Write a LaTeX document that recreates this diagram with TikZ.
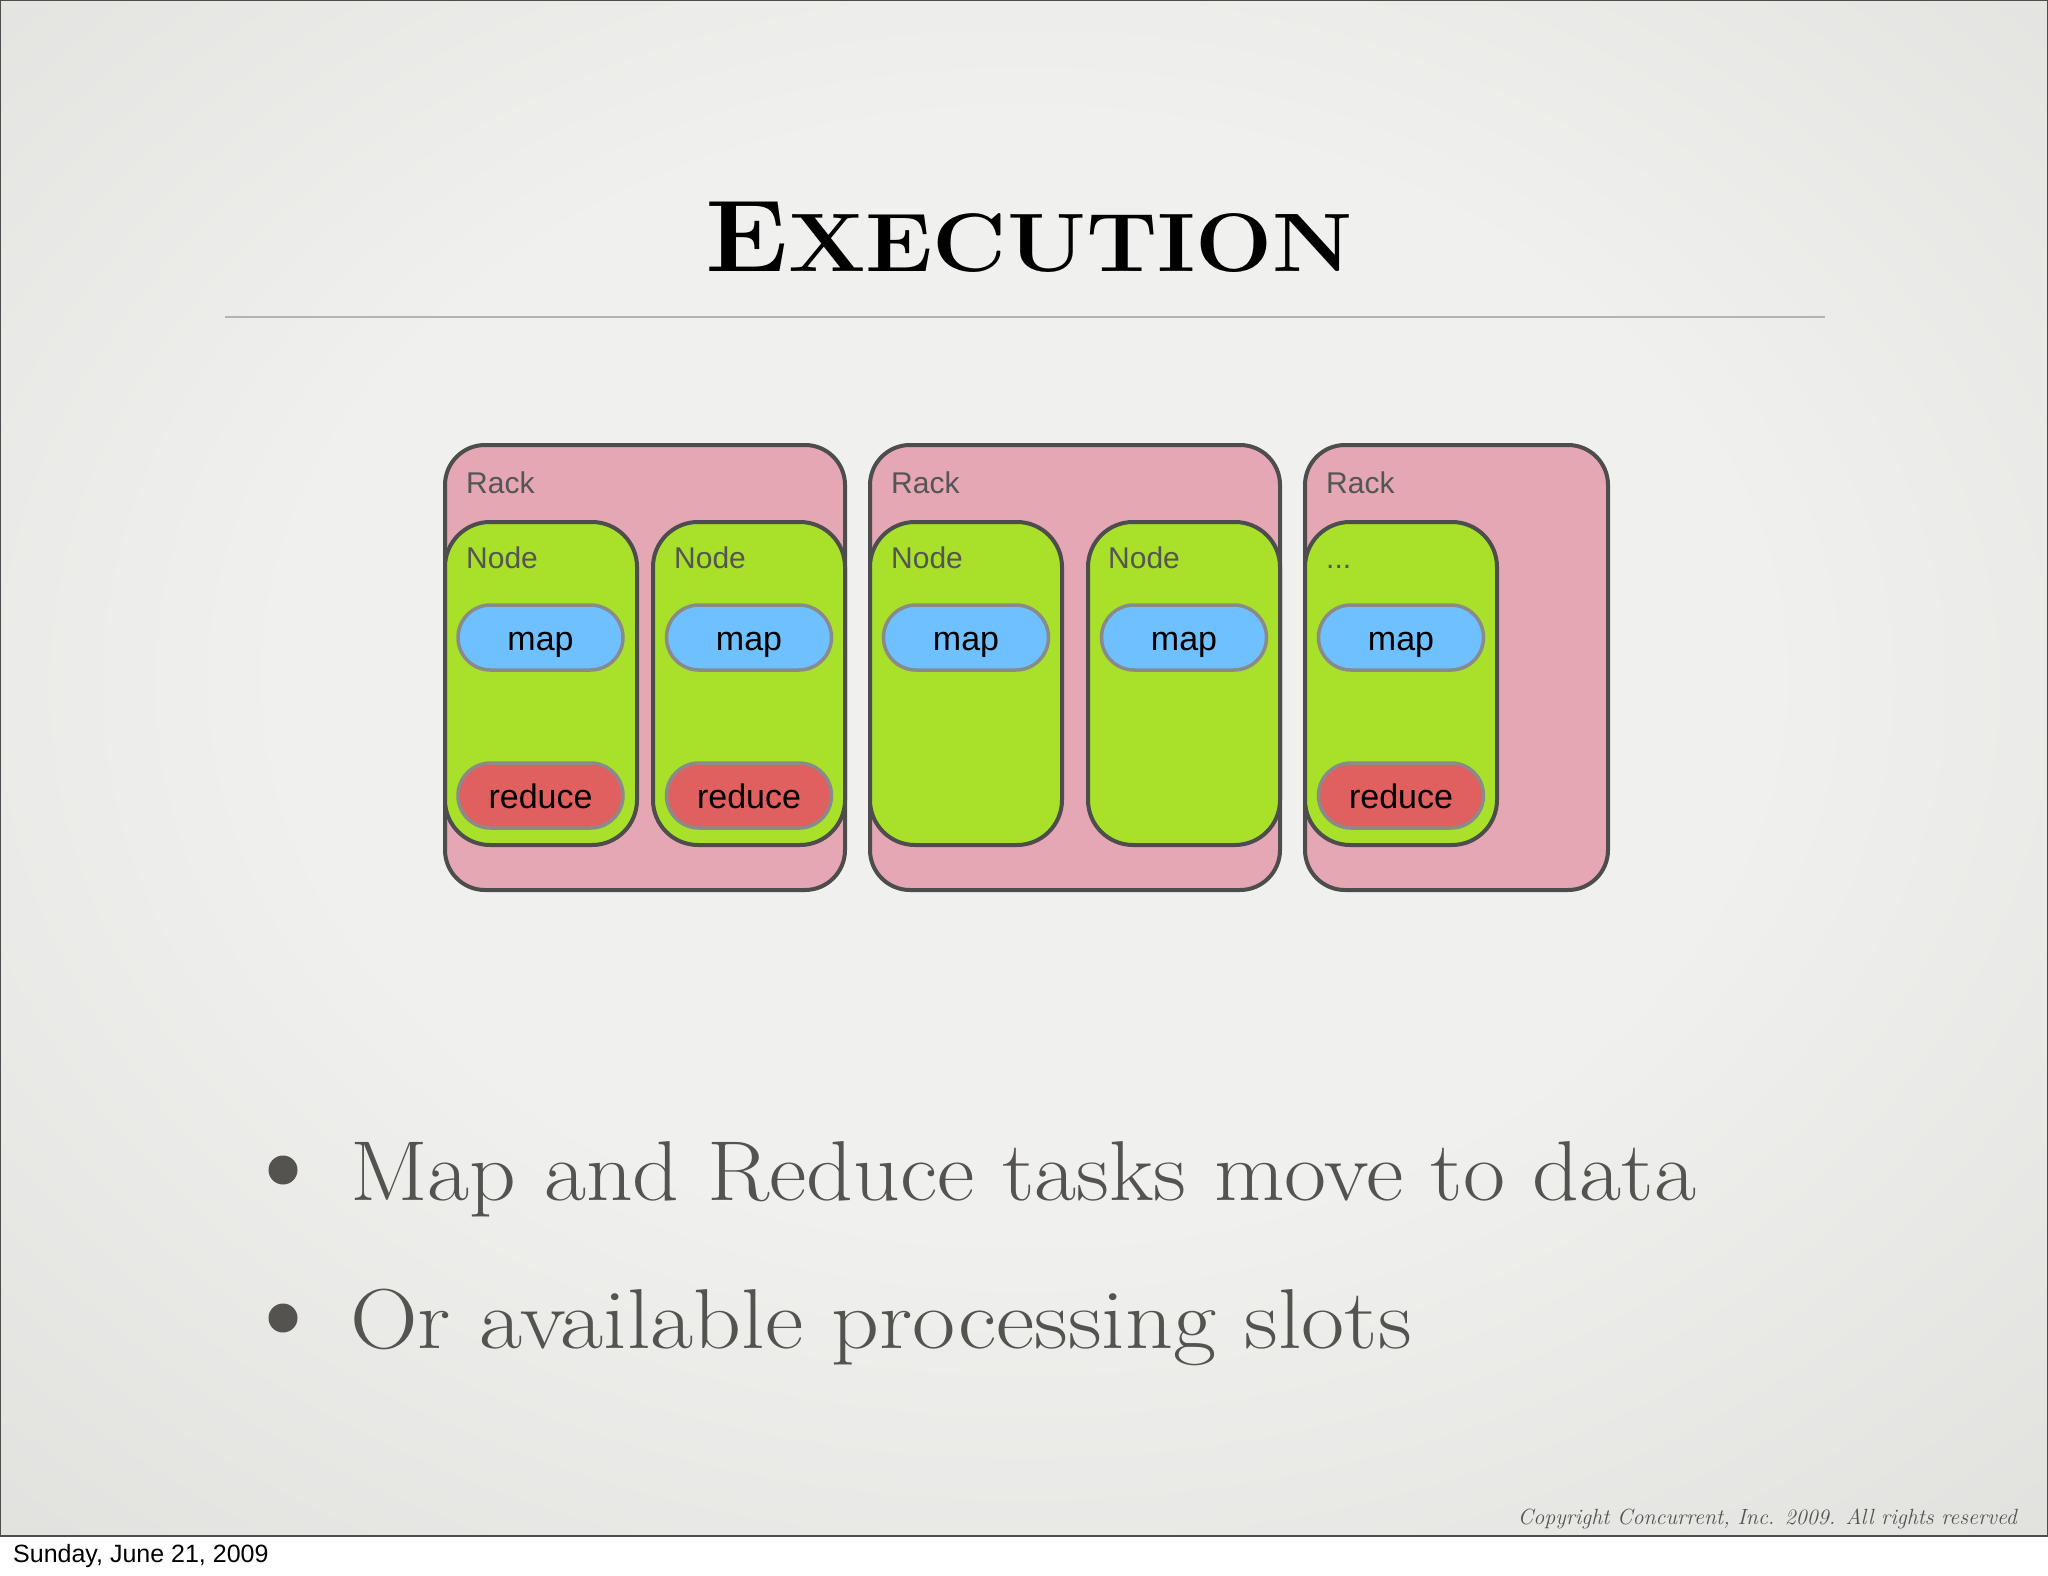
\documentclass[tikz,border=0pt]{standalone}
\usepackage{fontspec}
\newfontfamily\helv{Liberation Sans}
\usetikzlibrary{shapes.misc}
\definecolor{bgin}{HTML}{F0F0EE}
\definecolor{bgout}{HTML}{C6C7C2}
\definecolor{rackpink}{HTML}{E5A7B3}
\definecolor{nodegreen}{HTML}{A8E02A}
\definecolor{mapblue}{HTML}{6FC0FF}
\definecolor{redfill}{HTML}{E06060}
\definecolor{edgegray}{HTML}{4D4D4D}
\definecolor{pillgray}{HTML}{8A8A8A}
\definecolor{labgray}{HTML}{555555}
\definecolor{txtgray}{HTML}{55534F}
\definecolor{rulegray}{HTML}{B4B4B4}
\pgfdeclareradialshading{slidebg}{\pgfpoint{0bp}{4bp}}{color(0bp)=(bgin); color(18bp)=(bgin); color(72bp)=(bgout)}
\tikzset{
  rackbox/.style={draw=edgegray, line width=4pt, fill=rackpink, rounded corners=40pt, minimum width=#1, minimum height=445pt, inner sep=0pt},
  nodebox/.style={draw=edgegray, line width=4pt, fill=nodegreen, rounded corners=45pt, minimum width=192pt, minimum height=323pt, inner sep=0pt},
  pill/.style={draw=pillgray, line width=3.5pt, rounded rectangle, minimum width=165pt, minimum height=65pt, inner sep=0pt, font=\helv\fontsize{34}{34}\selectfont, text=black, text height=25pt, text depth=0pt},
  mappill/.style={pill, fill=mapblue},
  redpill/.style={pill, fill=redfill},
  lab/.style={font=\helv\fontsize{30}{30}\selectfont, text=labgray, anchor=base west, inner sep=0pt},
  bullettext/.style={font=\fontsize{85}{85}\selectfont, text=txtgray, anchor=base west, inner sep=0pt},
  bulletdot/.style={circle, fill=txtgray, minimum size=29pt, inner sep=0pt}
}
\begin{document}
\begin{tikzpicture}[x=1pt,y=-1pt]
\useasboundingbox (0,0) rectangle (2048,1576);
\fill[white] (0,0) rectangle (2048,1576);
\shade[shading=slidebg] (0,0) rectangle (2048,1536);
\draw[edgegray, line width=2.5pt] (0,0) rectangle (2048,1536);

% title
\node[anchor=base west, inner sep=0pt, font=\bfseries] (title) at (705,271) {\scalebox{1.1}[1]{\fontsize{102}{102}\selectfont E\fontsize{83}{83}\selectfont XECUTION}};
\draw[rulegray, line width=2pt] (225,317) coordinate (ruleL) -- (1825,317) coordinate (ruleR);

% racks
\node[rackbox=400pt] (rack1) at (645,667.5) {};
\node[rackbox=410pt] (rack2) at (1075,667.5) {};
\node[rackbox=303pt] (rack3) at (1456.5,667.5) {};
\node[lab] (rl1) at (466,493) {Rack};
\node[lab] (rl2) at (891,493) {Rack};
\node[lab] (rl3) at (1326,493) {Rack};

% nodes
\node[nodebox] (n1) at (541,683.5) {};
\node[nodebox] (n2) at (749,683.5) {};
\node[nodebox] (n3) at (966,683.5) {};
\node[nodebox] (n4) at (1184,683.5) {};
\node[nodebox] (n5) at (1401,683.5) {};
\node[lab] (nl1) at (466,568) {Node};
\node[lab] (nl2) at (674,568) {Node};
\node[lab] (nl3) at (891,568) {Node};
\node[lab] (nl4) at (1108,568) {Node};
\node[lab] (nl5) at (1326,568) {...};

% tasks
\node[mappill] (m1) at (540.5,637.5) {map};
\node[mappill] (m2) at (749,637.5) {map};
\node[mappill] (m3) at (966,637.5) {map};
\node[mappill] (m4) at (1184,637.5) {map};
\node[mappill] (m5) at (1401,637.5) {map};
\node[redpill] (r1) at (540.5,795.5) {reduce};
\node[redpill] (r2) at (749,795.5) {reduce};
\node[redpill] (r5) at (1401,795.5) {reduce};

% bullets
\node[bulletdot] (b1) at (283,1170) {};
\node[bullettext] (t1) at (350,1200) {\scalebox{1.076}[1]{Map and Reduce tasks move to data}};
\node[bulletdot] (b2) at (283,1318) {};
\node[bullettext] (t2) at (350,1348) {\scalebox{1.104}[1]{Or available processing slots}};

% footer
\node[anchor=base east, inner sep=0pt, font=\itshape\fontsize{22}{22}\selectfont, text=txtgray] (copy) at (2017,1524) {Copyright Concurrent, Inc. 2009. All rights reserved};
\node[anchor=base west, inner sep=0pt, font=\helv\fontsize{25}{25}\selectfont] (date) at (13,1562) {Sunday, June 21, 2009};
\end{tikzpicture}
\end{document}
